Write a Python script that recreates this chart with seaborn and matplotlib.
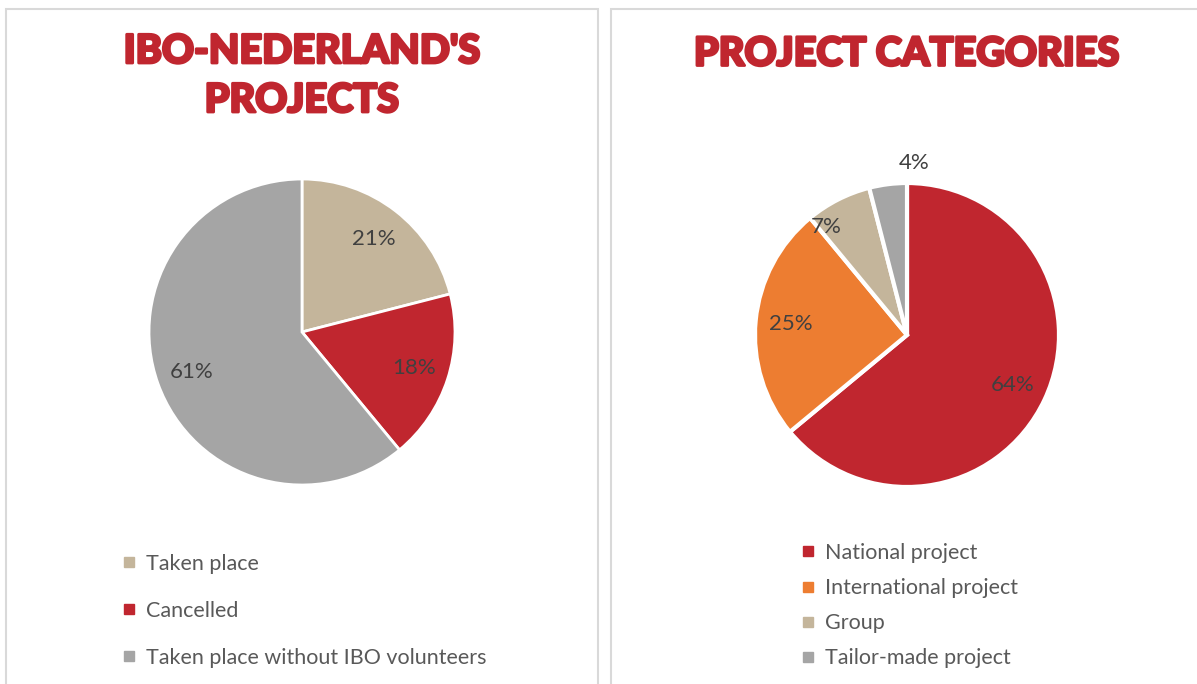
import matplotlib
matplotlib.use("Agg")
import matplotlib.pyplot as plt
import matplotlib.patheffects as pe
import seaborn as sns
from matplotlib.lines import Line2D
from matplotlib.patches import Rectangle

# data
status_labels = ["Taken place", "Cancelled", "Taken place without IBO volunteers"]
status_share = [21, 18, 61]
category_labels = ["National project", "International project", "Group", "Tailor-made project"]
category_share = [64, 25, 7, 4]

red = "#C0262F"
tan = "#C4B59B"
grey = "#A5A5A5"
orange = "#ED7D31"
status_colors = [tan, red, grey]
category_colors = [red, orange, tan, grey]

sns.set_theme(style="white")
plt.rcParams["font.family"] = ["Lato", "DejaVu Sans"]

W, H = 1197, 684
fig = plt.figure(figsize=(W / 100, H / 100), dpi=100)

# panel frames
fig.patches.append(Rectangle((6 / W, -0.01), 592 / W, (H - 9) / H + 0.01, transform=fig.transFigure,
                             fill=False, edgecolor="#D9D9D9", linewidth=1.5))
fig.patches.append(Rectangle((611 / W, -0.01), 600 / W, (H - 9) / H + 0.01, transform=fig.transFigure,
                             fill=False, edgecolor="#D9D9D9", linewidth=1.5))

title_kw = dict(color=red, fontsize=28.5, fontweight="black", ha="center", va="center",
                family=["Lato", "DejaVu Sans"],
                path_effects=[pe.withStroke(linewidth=2, foreground=red)])
fig.text(302 / W, 1 - 76 / H, "IBO-NEDERLAND'S\nPROJECTS", linespacing=1.4, **title_kw)
fig.text(907 / W, 1 - 54 / H, "PROJECT CATEGORIES", **title_kw)


def pie_axes(cx, cy, r):
    return fig.add_axes([(cx - r) / W, (H - cy - r) / H, 2 * r / W, 2 * r / H])


label_kw = dict(color="#404040", fontsize=16)

ax1 = pie_axes(302, 332, 153)
w1, t1, p1 = ax1.pie(status_share, colors=status_colors, startangle=90, counterclock=False,
                     autopct=lambda v: f"{v:.0f}%", pctdistance=0.77,
                     wedgeprops=dict(edgecolor="white", linewidth=2), textprops=label_kw)
ax1.set_xlim(-1, 1)
ax1.set_ylim(-1, 1)

ax2 = pie_axes(907, 335, 152)
w2, t2, p2 = ax2.pie(category_share, colors=category_colors, startangle=90, counterclock=False,
                     autopct=lambda v: f"{v:.0f}%", pctdistance=0.77,
                     wedgeprops=dict(edgecolor="white", linewidth=3), textprops=label_kw)
ax2.set_xlim(-1, 1)
ax2.set_ylim(-1, 1)
# Excel-like label placement for the thin slices
p2[2].set_position((-0.53, 0.71))
p2[3].set_position((0.05, 1.13))

leg_kw = dict(frameon=False, fontsize=15.5, labelcolor="#595959", handletextpad=0.4,
              handlelength=0.8, borderaxespad=0, borderpad=0)


def handles(colors):
    return [Line2D([], [], marker="s", linestyle="", markersize=7, color=c) for c in colors]


fig.legend(handles(status_colors), status_labels, loc="upper left",
           bbox_to_anchor=(120 / W, 1 - 554 / H), labelspacing=1.25, **leg_kw)
fig.legend(handles(category_colors), category_labels, loc="upper left",
           bbox_to_anchor=(799 / W, 1 - 543 / H), labelspacing=0.7, **leg_kw)

fig.savefig("out.png", dpi=100)
